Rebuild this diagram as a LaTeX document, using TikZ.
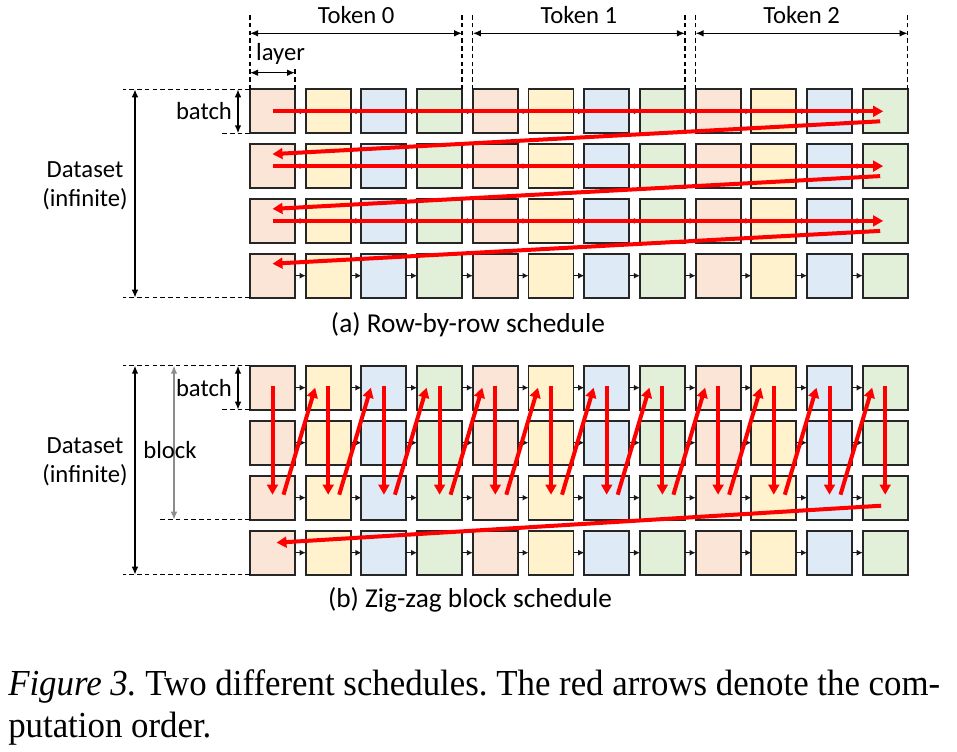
\documentclass[tikz,border=0pt]{standalone}
\usepackage{fontspec}
\setmainfont{Liberation Serif}[FakeStretch=0.95]
\newfontfamily\calibri{Carlito}
\usetikzlibrary{arrows.meta,positioning,calc}
\definecolor{col0}{HTML}{FBE5D6}
\definecolor{col1}{HTML}{FFF2CC}
\definecolor{col2}{HTML}{DEEBF7}
\definecolor{col3}{HTML}{E2F0D9}
\definecolor{cred}{HTML}{FF0000}
\frenchspacing
\tikzset{
    cell/.style={
        rectangle, draw=black!85, line width=1.4pt,
        minimum width=33.75pt, minimum height=33pt,
        inner sep=0pt, outer sep=0pt,
    },
    link/.style={
        draw=black!90, -{Latex[length=4.5pt,width=4.5pt]}, line width=0.9pt,
    },
    flow/.style={
        draw=cred, line width=3pt, -{Triangle[length=7.5pt,width=8pt]},
    },
    guide/.style={
        draw, line width=1pt, dash pattern=on 3.4pt off 2.4pt,
    },
    dim/.style={
        draw, line width=1.1pt, {Latex[length=6pt,width=5pt]}-{Latex[length=6pt,width=5pt]},
    },
    subcap/.style={
        font=\calibri\fontsize{20.5}{24}\selectfont,
    },
}

\begin{document}
\begin{tikzpicture}[x=0.75pt,y=-0.75pt,font=\calibri\fontsize{18.5}{22}\selectfont]
    \useasboundingbox (0,0) rectangle (957,751);
    % cells
    \foreach \r in {0,...,3}
        \foreach \c in {0,...,11} {
            \pgfmathtruncatemacro{\k}{mod(\c,4)}
            \node [cell, fill=col\k] (a\r-\c) at (272.5+55.7*\c, 111.3+54.8*\r) {};
            \node [cell, fill=col\k] (b\r-\c) at (272.5+55.7*\c, 387.7+55*\r) {};
        }
    \foreach \r in {0,...,3}
        \foreach \c in {1,...,11} {
            \pgfmathtruncatemacro{\pc}{\c-1}
            \draw[link] (a\r-\pc.east) -- (a\r-\c.west);
            \draw[link] (b\r-\pc.east) -- (b\r-\c.west);
        }
    % header
    \foreach \tk [evaluate=\tk as \lc using int(4*\tk), evaluate=\tk as \rc using int(4*\tk+3)] in {0,1,2} {
        \draw[guide] (a0-\lc.north west) -- ++(0,-77);
        \draw[guide] (a0-\rc.north east) -- ++(0,-77);
        \draw[dim] ([shift={(0,-56)}]a0-\lc.north west) -- ([shift={(0,-56)}]a0-\rc.north east)
        node[midway,above,inner sep=7pt] {Token \tk};
    }
    \draw[guide] (a0-0.north east) -- ++(0,-22);
    \draw[dim] ([shift={(0,-16.6)}]a0-0.north west) -- ([shift={(0,-16.6)}]a0-0.north east)
    node[midway,above,inner sep=5.5pt,xshift=6pt] {layer};
    % (a) left side
    \draw[guide] (a0-0.north west) -- ++(-127,0);
    \draw[guide] (a3-0.south west) -- ++(-127,0);
    \draw[guide] (a0-0.south west) -- ++(-28,0);
    \coordinate (dsAT) at ([shift={(-115,0)}]a0-0.north west);
    \coordinate (dsAB) at ([shift={(-115,0)}]a3-0.south west);
    \draw[dim] (dsAT) -- (dsAB);
    \draw[dim] ([shift={(-12,0)}]a0-0.north west) -- ([shift={(-12,0)}]a0-0.south west)
    node[midway,left,inner sep=4pt] {batch};
    \node[align=center] (dsA) at (85,186) {Dataset\\(infinite)};
    % (b) left side
    \draw[guide] (b0-0.north west) -- ++(-127,0);
    \draw[guide] (b3-0.south west) -- ++(-127,0);
    \draw[guide] (b0-0.south west) -- ++(-28,0);
    \draw[guide] (b2-0.south west) -- ++(-90,0);
    \coordinate (dsBT) at ([shift={(-115,0)}]b0-0.north west);
    \coordinate (dsBB) at ([shift={(-115,0)}]b3-0.south west);
    \draw[dim] (dsBT) -- (dsBB);
    \draw[dim] ([shift={(-12,0)}]b0-0.north west) -- ([shift={(-12,0)}]b0-0.south west)
    node[midway,left,inner sep=4pt] {batch};
    \coordinate (blkT) at ([shift={(-76,0)}]b0-0.north west);
    \coordinate (blkB) at ([shift={(-76,0)}]b2-0.south west);
    \draw[dim,draw=black!45] (blkT) -- (blkB);
    \node (blk) at (170,450) {block};
    \node[align=center] (dsB) at (85,462) {Dataset\\(infinite)};
    % red order, row by row
    \foreach \r [evaluate=\r as \nr using int(\r+1)] in {0,1,2} {
        \draw[flow] (a\r-0.center) -- ([shift={(-2,0)}]a\r-11.center);
        \draw[flow] ([shift={(-5,10)}]a\r-11.center) -- ([shift={(0,-12)}]a\nr-0.center);
    }
    % red order, zig-zag
    \foreach \c in {0,...,11}
        \draw[flow] ([shift={(0,-2)}]b0-\c.center) -- ([shift={(0,-3)}]b2-\c.center);
    \foreach \c [evaluate=\c as \nc using int(\c+1)] in {0,...,10}
        \draw[flow] ([shift={(11,-3)}]b2-\c.center) -- ([shift={(-13,0)}]b0-\nc.center);
    \draw[flow] ([shift={(-4,8)}]b2-11.center) -- ([shift={(4,-10)}]b3-0.center);
    % captions
    \node[subcap] (capA) at (468,325) {(a) Row-by-row schedule};
    \node[subcap] (capB) at (470,600) {(b) Zig-zag block schedule};
    \node[anchor=base west,align=left,inner sep=0pt,font=\rmfamily\fontsize{27.5}{31.5}\selectfont] (fig) at (8,737)
    {\textit{Figure 3.} Two different schedules. The red arrows denote the com-\\putation order.};
\end{tikzpicture}
\end{document}
